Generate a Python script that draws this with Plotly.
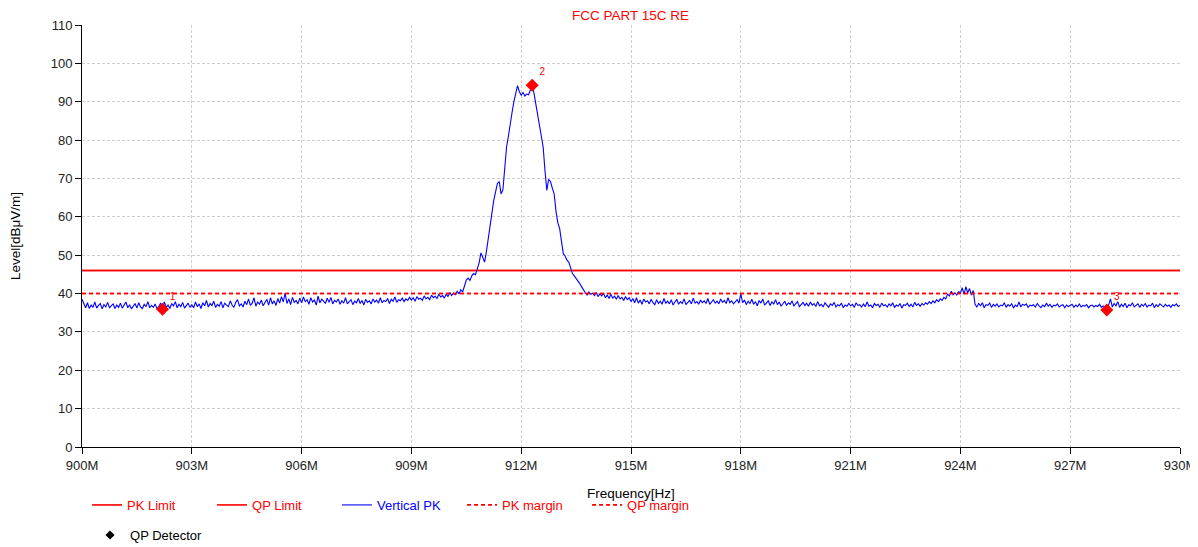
import plotly.graph_objects as go

# ---- data ----
freq_start_mhz = 900.0
freq_step_mhz = 0.05
vertical_pk = [
    38.5, 37.2, 36.3, 37.6, 36.1, 37.0, 36.4, 37.8, 36.2, 36.9, 37.4, 36.0, 37.1, 36.5, 37.7, 36.3, 36.8, 37.3, 36.1, 37.0,
    36.4, 37.5, 36.2, 36.9, 37.8, 36.3, 37.1, 36.0, 36.8, 37.4, 36.2, 37.6, 36.5, 36.1, 37.2, 36.6, 37.9, 36.3, 36.9, 36.4,
    37.3, 36.0, 36.7, 37.5, 36.2, 37.8, 36.4, 37.0, 36.1, 37.4, 36.8, 37.9, 36.3, 37.2, 36.6, 37.7, 36.2, 36.9, 37.5, 36.4,
    37.1, 36.3, 37.8, 36.6, 37.3, 36.1, 37.6, 36.8, 38.2, 36.5, 37.4, 36.9, 38.0, 36.4, 37.2, 36.7, 37.9, 36.3, 37.5, 37.0,
    36.6, 38.1, 37.0, 36.4, 37.7, 38.4, 36.8, 37.3, 36.5, 38.0, 37.1, 38.6, 36.9, 37.5, 38.9, 36.7, 37.8, 37.2, 38.3, 36.8,
    37.6, 38.5, 37.0, 38.9, 37.3, 38.1, 36.9, 38.7, 37.5, 39.2, 37.8, 40.1, 37.4, 38.6, 37.1, 39.0, 37.7, 38.2, 37.3, 38.8,
    37.6, 39.1, 37.9, 38.4, 37.2, 38.9, 37.8, 38.3, 37.0, 39.3, 37.6, 38.5, 38.0, 37.4, 38.8, 37.7, 39.0, 37.3, 38.2, 37.8,
    38.6, 37.2, 38.1, 37.5, 38.9, 37.3, 37.9, 38.4, 37.1, 38.0, 37.6, 38.7, 37.4, 38.2, 37.0, 38.5, 37.7, 38.1, 37.3, 38.6,
    37.8, 38.3, 37.5, 38.9, 37.6, 38.2, 37.9, 38.7, 37.4, 38.5, 38.0, 39.1, 37.7, 38.4, 38.1, 38.8, 37.9, 38.6, 38.2, 39.0,
    38.3, 38.9, 38.0, 39.2, 38.5, 38.8, 38.2, 39.4, 38.6, 39.0, 38.4, 39.6, 38.9, 39.3, 38.7, 39.8, 39.1, 39.5, 38.8, 39.9,
    39.2, 40.3, 39.5, 40.1, 39.7, 40.6, 39.9, 41.0, 40.4, 41.8, 43.5, 44.0, 43.4, 44.6, 45.2, 44.9, 46.5, 48.0, 50.6, 49.5,
    48.2, 51.0, 54.5, 57.4, 61.5, 64.3, 66.5, 68.7, 69.2, 66.0, 67.0, 73.5, 78.2, 81.0, 84.5, 87.2, 90.0, 92.5, 94.2, 92.6,
    91.7, 92.4, 91.5, 92.0, 91.8, 93.0, 94.0, 92.2, 89.5, 87.0, 83.4, 80.5, 78.2, 72.0, 66.9, 69.8, 69.2, 67.5, 66.0, 61.5,
    58.5, 57.0, 53.5, 50.4, 49.8, 48.7, 48.2, 46.5, 45.2, 44.6, 44.0, 43.2, 42.6, 41.8, 40.9, 40.2, 39.6, 40.4, 39.8, 40.1,
    39.5, 40.3, 39.2, 39.9, 39.4, 40.1, 38.9, 39.6, 38.7, 39.8, 38.8, 39.3, 38.5, 39.5, 38.6, 39.0, 38.2, 39.2, 38.4, 38.9,
    37.9, 38.7, 37.6, 38.9, 37.5, 38.3, 37.2, 38.6, 37.8, 38.1, 37.3, 38.5, 37.6, 37.1, 38.4, 37.4, 38.0, 37.2, 38.7, 37.5,
    38.0, 37.3, 38.4, 37.0, 37.8, 38.5, 37.2, 37.9, 37.4, 38.6, 37.1, 37.7, 38.2, 37.3, 38.8, 37.5, 37.9, 37.2, 38.3, 37.6,
    38.1, 37.4, 38.7, 37.2, 37.9, 38.4, 37.5, 38.0, 37.3, 38.6, 37.7, 38.2, 37.4, 38.9, 37.6, 38.1, 37.3, 37.8, 38.4, 37.5,
    40.0, 37.6, 38.3, 37.1, 38.0, 37.4, 38.5, 37.2, 37.9, 36.8, 38.2, 37.5, 38.6, 37.0, 37.7, 38.1, 36.9, 37.8, 37.3, 38.4,
    37.1, 37.8, 36.7, 37.5, 38.0, 36.9, 37.6, 37.2, 38.1, 36.8, 37.4, 37.9, 36.6, 37.3, 37.7, 36.9, 37.5, 36.7, 37.8, 37.0,
    37.4, 36.6, 37.9, 36.8, 37.2, 36.5, 37.6, 37.0, 36.4, 37.3, 36.9, 37.7, 36.5, 37.1, 36.8, 37.5, 36.3, 37.0, 36.7, 37.4,
    36.8, 37.2, 36.4, 37.6, 36.9, 37.1, 36.5, 37.3, 36.6, 37.8, 36.7, 37.0, 36.3, 37.4, 36.9, 37.2, 36.4, 37.5, 36.8, 37.1,
    36.5, 37.3, 36.8, 37.6, 36.4, 37.0, 36.7, 37.4, 36.2, 37.1, 36.9, 37.5, 36.6, 37.2, 36.5, 37.7, 36.9, 37.3, 36.7, 37.4,
    37.0, 37.6, 37.2, 37.9, 37.4, 38.1, 37.6, 38.4, 37.9, 38.6, 38.2, 39.0, 38.6, 39.8, 39.4, 40.6, 39.7, 40.2, 39.6, 40.5,
    40.1, 41.5, 39.8, 41.8, 40.2, 41.3, 39.6, 40.8, 37.2, 36.5, 37.4, 36.8, 37.6, 36.3, 37.1, 36.9, 37.5, 36.4, 37.2, 36.7,
    37.3, 36.5, 37.0, 36.8, 37.6, 36.4, 37.1, 36.7, 37.4, 36.2, 37.0, 36.6, 37.8, 36.5, 37.2, 36.9, 37.3, 36.4, 37.0, 36.8,
    37.1, 36.5, 37.4, 36.8, 36.3, 37.0, 36.6, 37.5, 36.7, 37.2, 36.4, 37.0, 36.8, 37.3, 36.5, 36.9, 37.1, 36.3, 37.0, 36.6,
    36.9, 37.2, 36.4, 37.0, 36.6, 37.3, 36.5, 36.9, 36.7, 37.1, 36.3, 36.8, 37.0, 36.5, 36.9, 36.6, 37.2, 36.4, 36.8, 36.5,
    36.2, 37.0, 38.6, 36.5, 37.4, 36.8, 37.9, 36.4, 37.2, 36.6, 37.5, 36.3, 37.1, 36.8, 37.6, 36.5, 37.0, 37.3, 36.4, 37.2,
    36.7, 37.4, 36.5, 37.0, 36.8, 37.5, 36.3, 37.1, 36.6, 37.3, 36.9, 36.5, 37.2, 36.7, 37.0, 36.4, 37.1, 36.8, 37.3, 36.6,
    36.9,
]
limit_freq = [900.0, 930.0]
pk_limit = [46, 46]
qp_limit = [46, 46]
pk_margin = [40, 40]
qp_margin = [40, 40]
marker_freq = [902.2, 912.3, 928.0]
marker_level = [35.9, 94.3, 35.7]
marker_labels = ["1", "2", "3"]
x_tick_vals = [900, 903, 906, 909, 912, 915, 918, 921, 924, 927, 930]
x_tick_text = ["900M", "903M", "906M", "909M", "912M", "915M", "918M",
               "921M", "924M", "927M", "930M"]
y_tick_vals = list(range(0, 111, 10))

freqs = [freq_start_mhz + i * freq_step_mhz for i in range(len(vertical_pk))]

RED = "#ff0000"
BLUE = "#0000ff"
FONT = "Arial, Liberation Sans, sans-serif"

fig = go.Figure()
fig.add_trace(go.Scatter(x=limit_freq, y=pk_limit, mode="lines",
                         line=dict(color=RED, width=1.6),
                         name="<span style='color:#ff0000'>PK Limit</span>"))
fig.add_trace(go.Scatter(x=limit_freq, y=qp_limit, mode="lines",
                         line=dict(color=RED, width=1.6),
                         name="<span style='color:#ff0000'>QP Limit</span>"))
fig.add_trace(go.Scatter(x=freqs, y=vertical_pk, mode="lines",
                         line=dict(color=BLUE, width=1.1),
                         name="<span style='color:#0000ff'>Vertical PK</span>"))
fig.add_trace(go.Scatter(x=limit_freq, y=pk_margin, mode="lines",
                         line=dict(color=RED, width=1.6, dash="4px,3px"),
                         name="<span style='color:#ff0000'>PK margin</span>"))
fig.add_trace(go.Scatter(x=limit_freq, y=qp_margin, mode="lines",
                         line=dict(color=RED, width=1.6, dash="4px,3px"),
                         name="<span style='color:#ff0000'>QP margin</span>"))
fig.add_trace(go.Scatter(x=marker_freq, y=marker_level, mode="markers+text",
                         marker=dict(symbol="diamond", color=RED, size=10),
                         text=marker_labels, textposition="top right",
                         textfont=dict(color=RED, size=10, family=FONT),
                         showlegend=False, cliponaxis=False))
fig.add_trace(go.Scatter(x=[None], y=[None], mode="markers",
                         marker=dict(symbol="diamond", color="black", size=7),
                         name="QP Detector", legend="legend2"))

axis_common = dict(
    showline=True, linecolor="black", linewidth=1,
    ticks="outside", ticklen=6, tickcolor="black",
    showgrid=True, gridcolor="#cfcfcf", griddash="3px,2px", gridwidth=1,
    zeroline=False, automargin=False,
    tickfont=dict(family=FONT, size=13, color="#222222"),
)

fig.update_layout(
    width=1190, height=539,
    margin=dict(l=74, r=18, t=17, b=100, autoexpand=False),
    paper_bgcolor="white", plot_bgcolor="white",
    font=dict(family=FONT, size=13, color="black"),
    title=dict(text="FCC PART 15C RE", x=0.474, xanchor="left", y=0.986,
               yanchor="middle", font=dict(color=RED, size=13.5, family=FONT)),
    xaxis=dict(range=[900, 930], tickvals=x_tick_vals, ticktext=x_tick_text,
               **axis_common),
    yaxis=dict(range=[0, 110], tickvals=y_tick_vals,
               title=dict(text="Level[dBμV/m]", standoff=27,
                          font=dict(size=13.5, family=FONT)),
               **axis_common),
    legend=dict(orientation="h", x=0.0046, xanchor="left",
                yref="container", y=0.1058, yanchor="top",
                entrywidth=80, entrywidthmode="pixels",
                font=dict(size=13, family=FONT), bgcolor="rgba(0,0,0,0)"),
    legend2=dict(orientation="h", x=0.0073, xanchor="left",
                 yref="container", y=0.050, yanchor="top",
                 font=dict(size=13, family=FONT), bgcolor="rgba(0,0,0,0)"),
    showlegend=True,
    annotations=[dict(text="Frequency[Hz]", xref="paper", yref="paper",
                      x=0.5, y=0, xanchor="center", yanchor="middle",
                      yshift=-46, showarrow=False,
                      font=dict(size=13.5, family=FONT, color="black"))],
)

fig.write_html("out.html")
